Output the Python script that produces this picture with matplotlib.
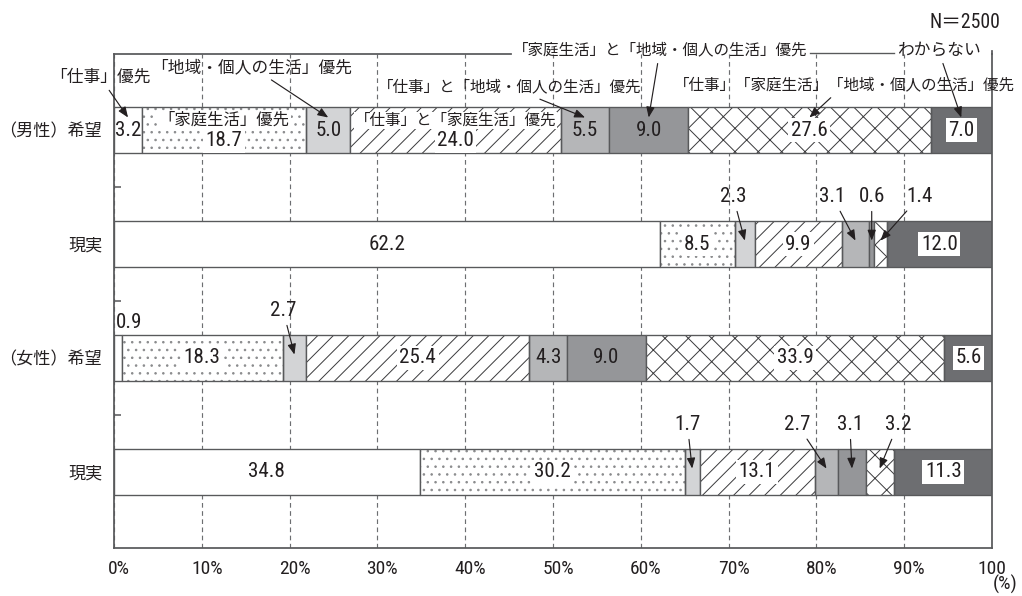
import numpy as np
import matplotlib
matplotlib.use('Agg')
import matplotlib.pyplot as plt
from matplotlib import font_manager
from matplotlib.transforms import ScaledTranslation


def first_font(names):
    for n in names:
        try:
            font_manager.findfont(n, fallback_to_default=False)
            return n
        except ValueError:
            pass
    return 'DejaVu Sans'


latin = first_font(['Liberation Sans Narrow', 'Arial Narrow', 'Roboto Condensed', 'Liberation Sans'])
narrow = latin != 'Liberation Sans'
plt.rcParams['font.family'] = [latin, 'Noto Sans CJK JP', 'DejaVu Sans']
plt.rcParams['hatch.linewidth'] = 0.5

# data (%), N=2500
rows = ['（男性）希望', '現実', '（女性）希望', '現実']
categories = [
    '「仕事」優先',
    '「家庭生活」優先',
    '「地域・個人の生活」優先',
    '「仕事」と「家庭生活」優先',
    '「仕事」と「地域・個人の生活」優先',
    '「家庭生活」と「地域・個人の生活」優先',
    '「仕事」「家庭生活」「地域・個人の生活」優先',
    'わからない',
]
male_hope = [3.2, 18.7, 5.0, 24.0, 5.5, 9.0, 27.6, 7.0]
male_real = [62.2, 8.5, 2.3, 9.9, 3.1, 0.6, 1.4, 12.0]
female_hope = [0.9, 18.3, 2.7, 25.4, 4.3, 9.0, 33.9, 5.6]
female_real = [34.8, 30.2, 1.7, 13.1, 2.7, 3.1, 3.2, 11.3]
xticks = list(range(0, 101, 10))
xticklabels = ['0%', '10%', '20%', '30%', '40%', '50%', '60%', '70%', '80%', '90%', '100']

# styles
fills = ['white', 'white', '#d3d4d6', 'white', '#b5b6b8', '#959699', 'white', '#6d6e71']
hatches = [None, '...', None, '///', None, None, 'xx', None]
hatch_cols = [None, '#8a8b8d', None, '#3a3a3c', None, None, '#3a3a3c', None]
boxed = [False, True, False, True, False, False, True, True]
ink = '#231f20'
edge = '#58595b'

data = np.array([male_hope, male_real, female_hope, female_real])
lefts = np.cumsum(data, axis=1) - data
centers = lefts + data / 2
ypos = np.arange(len(rows))

fig = plt.figure(figsize=(1022 / 140, 596 / 140), dpi=140)
ax = fig.add_axes([114 / 1022, 48 / 596, 878 / 1022, 494 / 596])

for j in range(len(categories)):
    if hatches[j]:
        # hatch first (its own colour), outline on top
        ax.barh(ypos, data[:, j], left=lefts[:, j], height=0.41, color=fills[j],
                hatch=hatches[j], edgecolor=hatch_cols[j], linewidth=0, zorder=2)
        ax.barh(ypos, data[:, j], left=lefts[:, j], height=0.41, fill=False,
                edgecolor=edge, linewidth=0.7, zorder=2.5)
    else:
        ax.barh(ypos, data[:, j], left=lefts[:, j], height=0.41, color=fills[j],
                edgecolor=edge, linewidth=0.7, zorder=2)

ax.set_xlim(0, 100)
ax.set_ylim(3.667, -0.667)

# callouts above the bar: (row, segment) -> text x shift in %
callouts = {(1, 2): -1.35, (1, 4): -2.65, (1, 5): 0.0, (1, 6): 4.5,
            (2, 2): -1.3,
            (3, 2): -0.55, (3, 4): -3.35, (3, 5): -0.25, (3, 6): 2.1}
arrow = dict(arrowstyle='-|>,head_length=0.45,head_width=0.18', color=ink,
             lw=0.6, mutation_scale=10, shrinkA=1, shrinkB=0)
numfs = 10.8 if narrow else 9.6
jpfs = 8.0

for i in range(len(rows)):
    for j in range(len(categories)):
        v = data[i, j]
        cx = centers[i, j]
        txt = f'{v:.1f}'
        if (i, j) in callouts:
            ax.annotate(txt, xy=(cx, i - 0.03), xytext=(cx + callouts[(i, j)], i - 0.42),
                        ha='center', va='center', fontsize=numfs, color=ink,
                        arrowprops=arrow, zorder=5)
            continue
        if i == 2 and j == 0:
            ax.text(0.2, i - 0.31, txt, ha='left', va='center', fontsize=numfs, color=ink)
            continue
        ty = i
        if i == 0 and j in (1, 3):
            ty = i + 0.095
            ax.text(cx, i - 0.085, categories[j], ha='center', va='center',
                    fontsize=8.4 if j == 1 else jpfs, color=ink, zorder=4,
                    bbox=dict(boxstyle='square,pad=0.05', fc='white', ec='none'))
        bb = None
        if boxed[j]:
            bb = dict(boxstyle='square,pad=0.12', fc='white', ec='none')
        ax.text(cx, ty, txt, ha='center', va='center', fontsize=numfs, color=ink,
                zorder=4, bbox=bb)

# category names with arrows pointing into the first row
names = [(0, -1.6, -0.465, 'center', 8.6), (2, 15.7, -0.553, 'center', 8.6),
         (4, 45.1, -0.377, 'center', jpfs), (5, 45.4, -0.70, 'left', jpfs),
         (6, 83.2, -0.395, 'center', jpfs), (7, 93.9, -0.70, 'center', 8.6)]
name_txt = {}
for j, tx, ty, ha, fs in names:
    name_txt[j] = ax.annotate(categories[j], xy=(centers[0, j], -0.11), xytext=(tx, ty),
                              ha=ha, va='center', fontsize=fs, color=ink,
                              arrowprops=arrow, annotation_clip=False, zorder=5)

ax.text(100.9, -0.947, 'N＝2500', ha='right', va='center', fontsize=numfs - 0.6, color=ink)

# frame
for s in ['left', 'bottom', 'right']:
    ax.spines[s].set_color(edge)
    ax.spines[s].set_linewidth(0.9)
ax.spines['top'].set_visible(False)

ax.set_yticks(ypos)
ax.set_yticklabels(rows, fontsize=8.8, color=ink)
ax.set_yticks([0.5, 1.5, 2.5], minor=True)
ax.tick_params(axis='y', which='major', length=0, pad=6)
ax.tick_params(axis='y', which='minor', direction='in', length=3.5, width=0.8, color=edge)

ax.set_xticks(xticks)
ax.set_xticklabels(xticklabels, fontsize=numfs - 0.8, color=ink)
ax.tick_params(axis='x', length=0, pad=6)
for lab in ax.get_xticklabels():
    if lab.get_text().endswith('%'):
        lab.set_transform(lab.get_transform() + ScaledTranslation(5 / 140, 0, fig.dpi_scale_trans))
ax.grid(axis='x', linestyle=(0, (4, 3)), color='#6d6e71', lw=0.6)
ax.set_axisbelow(True)

fig.text(1018 / 1022, 2 / 596, '(%)', ha='right', va='bottom', fontsize=numfs - 0.8, color=ink)

# top frame line runs up to the label and continues between the two top labels
fig.canvas.draw()
inv = ax.transData.inverted()
bb5 = name_txt[5].get_window_extent()
bb7 = name_txt[7].get_window_extent()
x5l = inv.transform((bb5.x0 - 2, 0))[0]
x5r = inv.transform((bb5.x1 + 3, 0))[0]
x7l = inv.transform((bb7.x0 - 3, 0))[0]
ax.plot([0, x5l], [-0.667, -0.667], color=edge, lw=0.9, clip_on=False, zorder=3)
ax.plot([x5r, x7l], [-0.672, -0.672], color=edge, lw=0.7, clip_on=False, zorder=3)
ax.plot([100, 100], [-0.69, -0.667], color=edge, lw=0.9, clip_on=False, zorder=3)

fig.savefig('out.png', dpi=140)
